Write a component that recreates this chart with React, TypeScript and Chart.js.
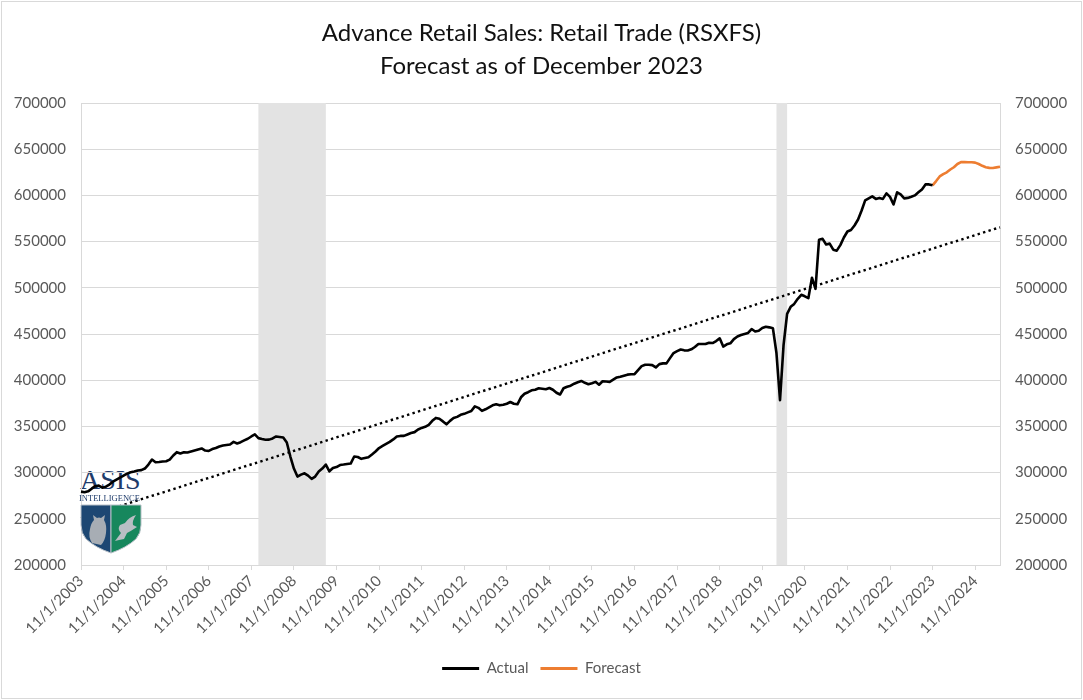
import React, { useEffect, useRef } from 'react';
import { Chart, registerables } from 'chart.js';

Chart.register(...registerables);

// ---- Data ----
const START_YEAR = 2003;
const START_MONTH = 11;
const MONTH_COUNT = 260; // 11/1/2003 .. 6/1/2025
const MONTHS: string[] = Array.from({ length: MONTH_COUNT }, (_, i) => {
  const m0 = START_MONTH - 1 + i;
  return `${(m0 % 12) + 1}/1/${START_YEAR + Math.floor(m0 / 12)}`;
});

const TITLE_LINES = ['Advance Retail Sales: Retail Trade (RSXFS)', 'Forecast as of December 2023'];

// Actual, monthly from 11/1/2003 to 11/1/2023
const ACTUAL: number[] = [
  279400, 278800, 279700, 282600, 285300, 285900, 283700, 284800, 287000, 290200,
  292400, 294600, 296700, 298900, 300300, 301100, 302200, 302700, 304400, 308700,
  314100, 311200, 311400, 312000, 312300, 314100, 318500, 322100, 320700, 322100,
  321700, 322800, 323900, 325000, 326100, 323900, 323400, 325500, 326600, 328300,
  329400, 329900, 330400, 333200, 331500, 332900, 334800, 336600, 339100, 341300,
  337300, 336400, 335600, 335700, 337000, 339100, 338600, 338000, 332600, 317400,
  304400, 295700, 297800, 299200, 296700, 293200, 295700, 301100, 304400, 308700,
  301400, 304900, 306000, 308200, 308700, 309300, 309800, 317400, 316900, 314900,
  315800, 316600, 319600, 322800, 326600, 328800, 331000, 333200, 335900, 339100,
  339700, 339700, 341300, 342900, 343800, 346700, 348400, 349500, 351600, 356000,
  359200, 358200, 355400, 352200, 356000, 359000, 360300, 362500, 363600, 365200,
  366600, 371700, 370100, 366800, 368500, 370700, 372800, 373900, 372800, 373400,
  374500, 376400, 374500, 373900, 381500, 385300, 387000, 389100, 389700, 391300,
  390800, 390200, 391600, 389700, 386400, 384500, 391300, 392900, 394000, 396200,
  397800, 399200, 397200, 395700, 396700, 398200, 395100, 398900, 398600, 398200,
  400600, 403000, 403800, 404900, 406000, 406500, 406500, 410900, 415200, 416800,
  416800, 416300, 413800, 417400, 418200, 418200, 423900, 429400, 431500, 433200,
  432300, 432100, 433400, 435900, 439100, 439100, 439100, 440600, 440200, 442400,
  445300, 436400, 438800, 439900, 444500, 447300, 448900, 450000, 451100, 455400,
  452700, 453600, 456500, 457900, 457200, 456200, 429400, 378300, 438000, 471800,
  479400, 482600, 488100, 492400, 490800, 488800, 510900, 498900, 552000, 553000,
  546800, 547800, 541300, 540200, 546200, 554400, 560900, 562500, 567400, 573900,
  583700, 594600, 596800, 598900, 596200, 597300, 596200, 602200, 598400, 590200,
  603300, 601100, 596800, 597300, 598600, 600000, 603300, 606500, 611900, 611900,
  610900,
];

// Forecast, monthly from 11/1/2023 to 6/1/2025
const FORECAST_START = '11/1/2023';
const FORECAST: number[] = [
  610900, 615500, 620500, 623000, 625000, 628000, 630500, 634000, 636000, 636000,
  635800, 635800, 635500, 634000, 632000, 630500, 629800, 629600, 630300, 631000,
];

// Linear trend end points
const TREND_POINTS: { x: string; y: number }[] = [
  { x: '11/1/2003', y: 250500 },
  { x: '6/1/2025', y: 565500 },
];

// Recession shading (start month, end month)
const RECESSIONS: [string, string][] = [
  ['1/1/2008', '8/1/2009'],
  ['3/1/2020', '6/1/2020'],
];

const Y_MIN = 200000;
const Y_MAX = 700000;
const Y_STEP = 50000;

const FONT = 'Lato, "Noto Sans", sans-serif';
const AXIS_GREY = '#595959';
const GRID_GREY = '#d9d9d9';

const recessionPlugin = {
  id: 'recessionBands',
  beforeDatasetsDraw(chart: any) {
    const { ctx, chartArea, scales } = chart;
    ctx.save();
    ctx.fillStyle = '#e3e3e3';
    for (const [s, e] of RECESSIONS) {
      const x0 = scales.x.getPixelForValue(MONTHS.indexOf(s));
      const x1 = scales.x.getPixelForValue(MONTHS.indexOf(e));
      ctx.fillRect(x0, chartArea.top, x1 - x0, chartArea.bottom - chartArea.top);
    }
    ctx.restore();
  },
};

export default function App() {
  const ref = useRef<HTMLCanvasElement>(null);

  useEffect(() => {
    const fIdx = MONTHS.indexOf(FORECAST_START);
    const forecastData: (number | null)[] = MONTHS.map((_, i) =>
      i >= fIdx && i - fIdx < FORECAST.length ? FORECAST[i - fIdx] : null
    );

    const chart = new Chart(ref.current as HTMLCanvasElement, {
      type: 'line',
      data: {
        labels: MONTHS,
        datasets: [
          {
            label: 'Actual',
            data: ACTUAL,
            borderColor: '#000000',
            backgroundColor: '#000000',
            borderWidth: 2.6,
            pointRadius: 0,
            tension: 0,
            borderJoinStyle: 'round',
            yAxisID: 'y',
          },
          {
            label: 'Forecast',
            data: forecastData,
            borderColor: '#ED7D31',
            backgroundColor: '#ED7D31',
            borderWidth: 2.6,
            pointRadius: 0,
            tension: 0,
            borderJoinStyle: 'round',
            yAxisID: 'y',
          },
          {
            label: 'Trend',
            data: TREND_POINTS as any,
            borderColor: '#000000',
            borderWidth: 2.4,
            borderDash: [2.4, 3.3],
            pointRadius: 0,
            tension: 0,
            yAxisID: 'y',
          },
        ],
      },
      options: {
        animation: false,
        responsive: true,
        maintainAspectRatio: false,
        layout: { padding: { top: 0, left: 0, right: 0, bottom: 14 } },
        plugins: {
          title: {
            display: true,
            text: TITLE_LINES,
            color: '#111111',
            font: { family: FONT, size: 24, weight: 'normal', lineHeight: 1.375 },
            padding: { top: 16.5, bottom: 20.5 },
          },
          legend: {
            display: true,
            position: 'bottom',
            labels: {
              color: AXIS_GREY,
              font: { family: FONT, size: 15 },
              boxWidth: 37,
              boxHeight: 3,
              padding: 12,
              generateLabels: () => [
                { text: 'Actual', fillStyle: '#000000', strokeStyle: '#000000', lineWidth: 0, hidden: false, datasetIndex: 0, fontColor: AXIS_GREY } as any,
                { text: 'Forecast', fillStyle: '#ED7D31', strokeStyle: '#ED7D31', lineWidth: 0, hidden: false, datasetIndex: 1, fontColor: AXIS_GREY } as any,
              ],
            },
          },
          tooltip: { enabled: false },
        },
        scales: {
          x: {
            type: 'category',
            offset: false,
            border: { display: true, color: GRID_GREY, width: 1 },
            grid: {
              drawOnChartArea: false,
              drawTicks: true,
              tickLength: 5,
              color: GRID_GREY,
            },
            ticks: {
              autoSkip: false,
              maxRotation: 45,
              minRotation: 45,
              padding: 2,
              color: AXIS_GREY,
              font: { family: FONT, size: 15 },
              callback: (_v: any, i: number) => (i % 12 === 0 ? MONTHS[i] : null),
            },
            afterFit: (scale: any) => {
              scale.height = 84;
            },
          },
          y: {
            type: 'linear',
            position: 'left',
            min: Y_MIN,
            max: Y_MAX,
            border: { display: true, color: GRID_GREY, width: 1 },
            grid: { color: GRID_GREY, lineWidth: 1, drawTicks: false },
            ticks: {
              stepSize: Y_STEP,
              padding: 15,
              color: AXIS_GREY,
              font: { family: FONT, size: 15 },
              callback: (v: any) => String(v),
            },
            afterFit: (scale: any) => {
              scale.width = 81;
            },
          },
          y2: {
            type: 'linear',
            position: 'right',
            display: true,
            min: Y_MIN,
            max: Y_MAX,
            border: { display: true, color: GRID_GREY, width: 1 },
            grid: { drawOnChartArea: false, drawTicks: false },
            ticks: {
              stepSize: Y_STEP,
              padding: 15,
              color: AXIS_GREY,
              font: { family: FONT, size: 15 },
              callback: (v: any) => String(v),
            },
            afterFit: (scale: any) => {
              scale.width = 83;
            },
          },
        },
      } as any,
      plugins: [recessionPlugin],
    });
    return () => chart.destroy();
  }, []);

  return (
    <div style={{ position: 'fixed', left: 0, top: 0, width: 1083, height: 700, background: '#ffffff', overflow: 'hidden' }}>
      {/* logo wordmark (behind the chart lines) */}
      <div
        style={{
          position: 'absolute',
          left: 80,
          top: 466,
          fontFamily: '"Liberation Serif", "DejaVu Serif", serif',
          fontSize: 28,
          lineHeight: '28px',
          color: '#1f3c6b',
          letterSpacing: 0,
          zIndex: 0,
        }}
      >
        ASIS
      </div>
      <div style={{ position: 'absolute', left: 0, top: 0, width: 1083, height: 700, zIndex: 1 }}>
        <canvas ref={ref} style={{ display: 'block' }} />
      </div>
      {/* logo emblem (over the chart) */}
      <div
        style={{
          position: 'absolute',
          left: 79,
          top: 494,
          fontFamily: '"Liberation Serif", "DejaVu Serif", serif',
          fontSize: 8.5,
          lineHeight: '8.5px',
          color: '#1f3c6b',
          zIndex: 2,
        }}
      >
        INTELLIGENCE
      </div>
      <svg width={64} height={52} style={{ position: 'absolute', left: 79, top: 503, zIndex: 2 }}>
        <path d="M2 2 H32 V50 Q17 45 7 36 Q2 30 2 22 Z" fill="#1d4773" stroke="#b8c0c8" strokeWidth={1} />
        <path d="M32 2 H62 V22 Q62 30 57 36 Q47 45 32 50 Z" fill="#17875d" stroke="#b8c0c8" strokeWidth={1} />
        <path d="M13 40 Q9 34 11 26 Q12 20 15 17 L14 12 L18 15 Q20 14 22 15 L26 12 L25 17 Q28 22 27 30 Q26 38 22 42 Z" fill="#a7adb4" />
        <path d="M36 38 L42 30 Q38 26 41 22 L46 20 Q50 14 57 12 Q53 18 54 22 L58 24 Q52 28 48 30 L45 36 L40 37 Z" fill="#b9bec4" />
      </svg>
      <div
        style={{
          position: 'absolute',
          left: 1,
          top: 1,
          width: 1081,
          height: 698,
          border: '1px solid #d9d9d9',
          boxSizing: 'border-box',
          pointerEvents: 'none',
          zIndex: 3,
        }}
      />
    </div>
  );
}
